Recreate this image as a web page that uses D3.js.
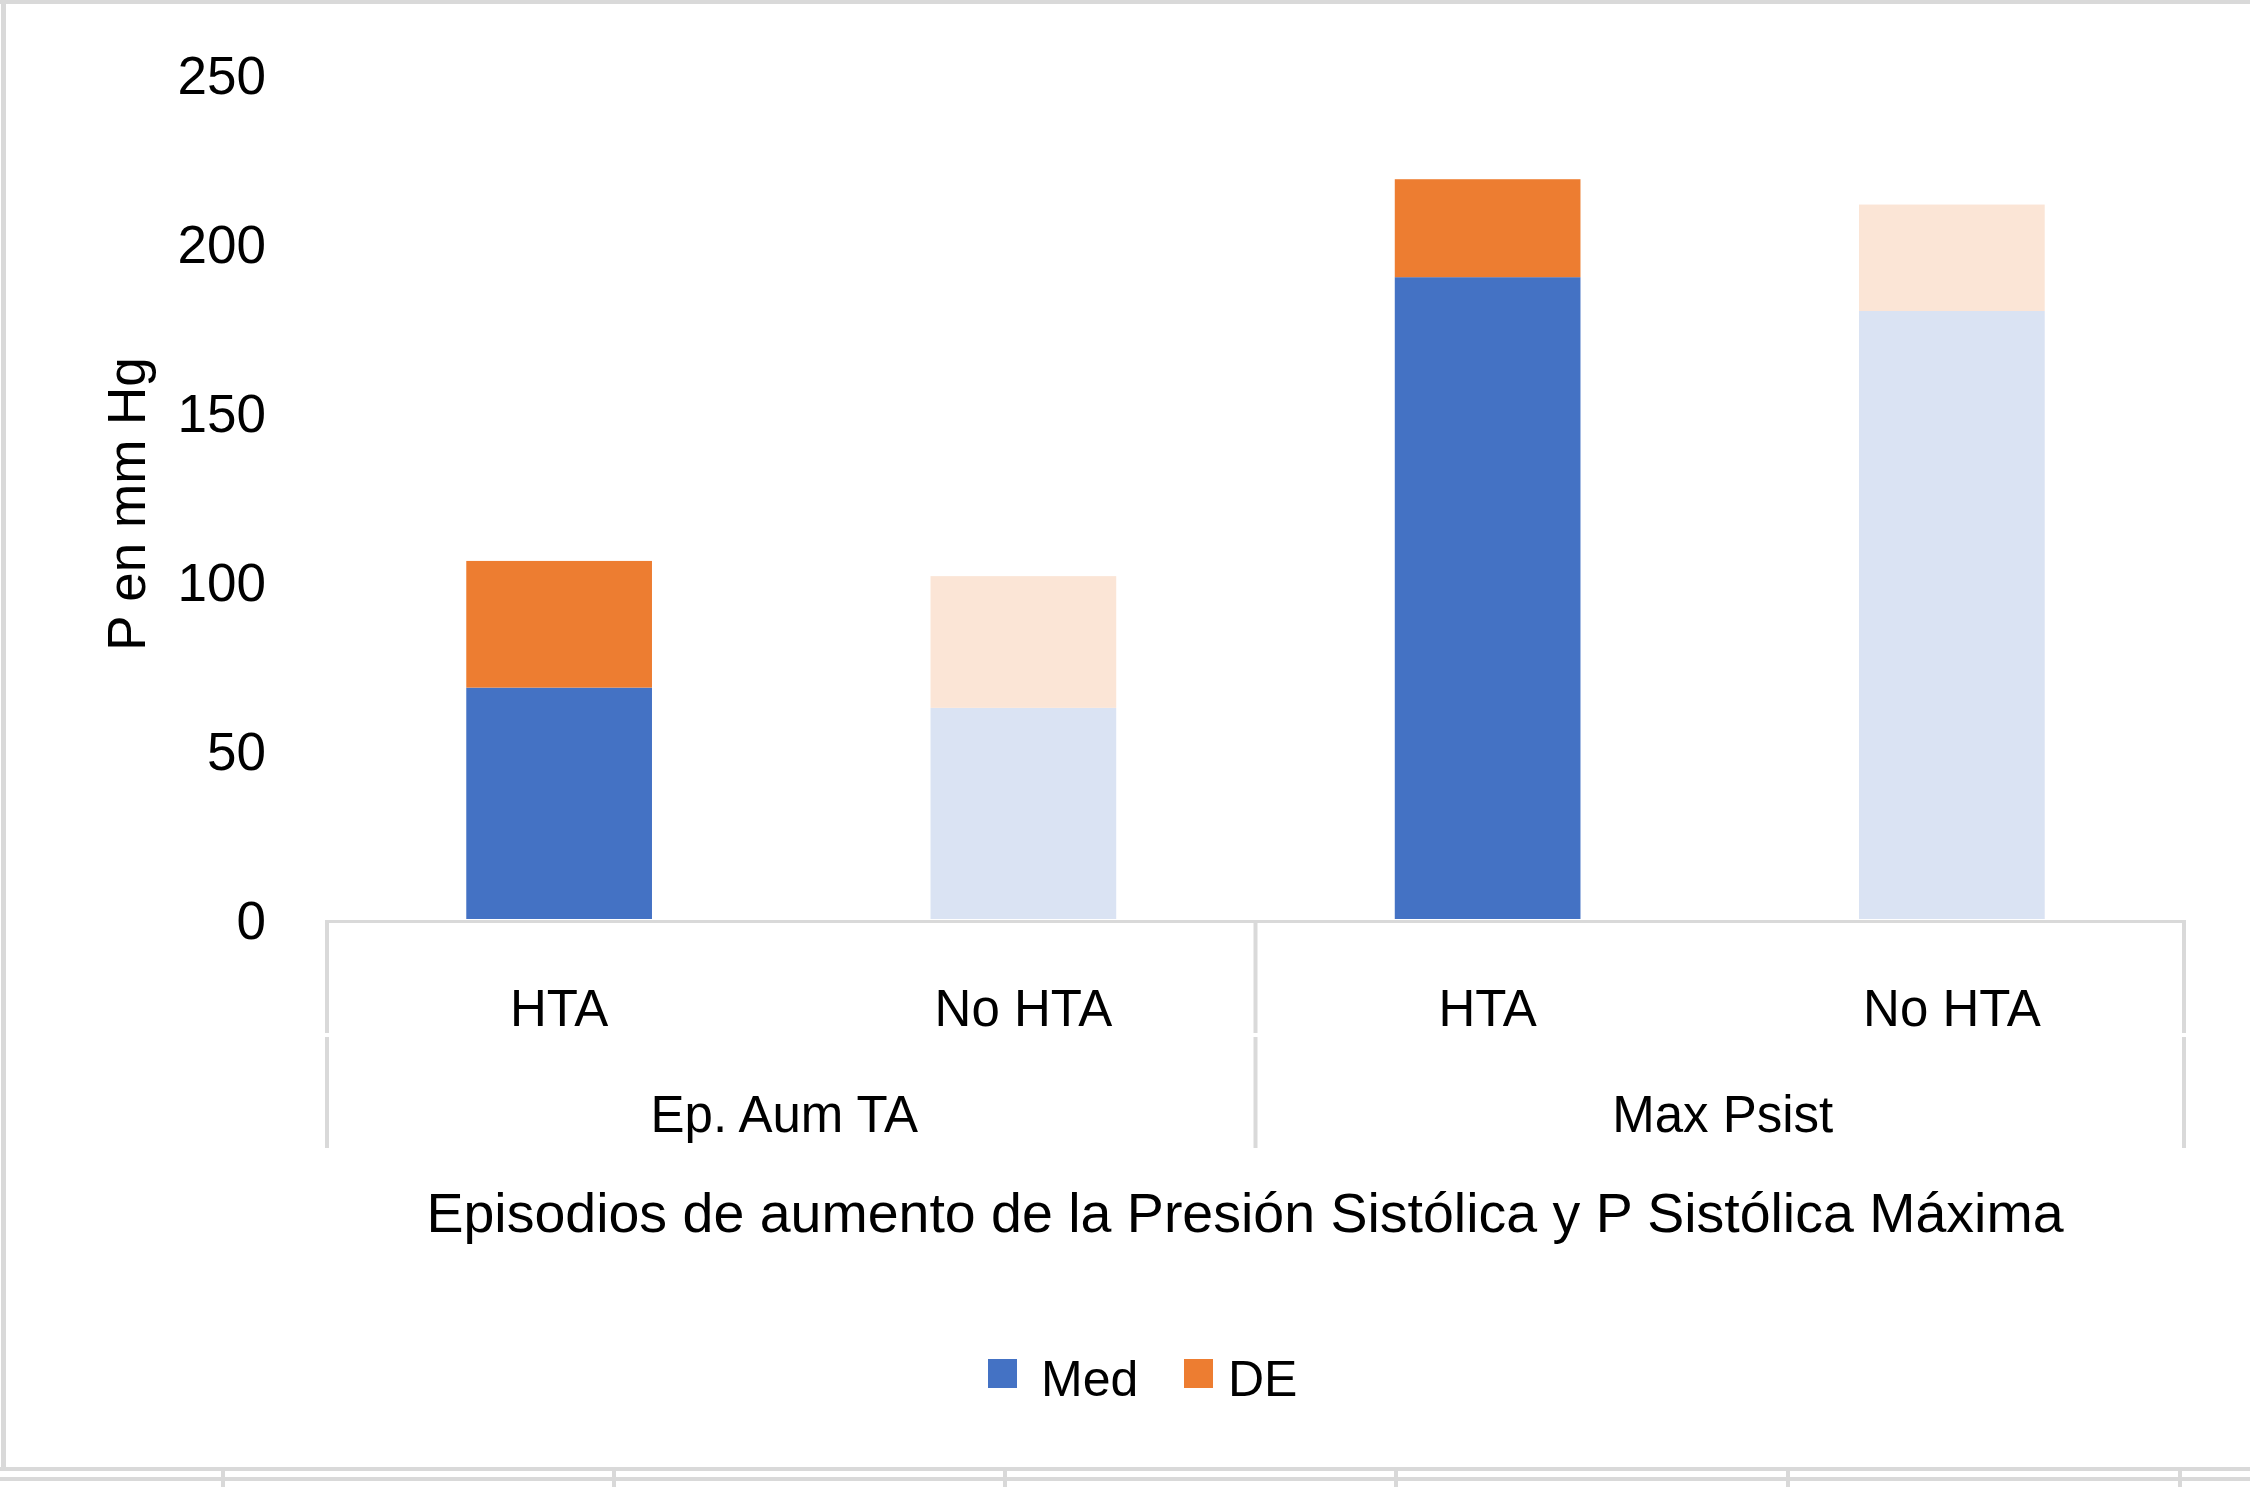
<!DOCTYPE html>
<html>
<head>
<meta charset="utf-8">
<script src="https://cdn.jsdelivr.net/npm/d3@7"></script>
<style>
  body { margin: 0; background: #fff; }
  svg { display: block; font-family: "Liberation Sans", Arial, sans-serif; }
</style>
</head>
<body>
<svg width="2250" height="1487"></svg>
<script>
// data
const groups = ['Ep. Aum TA', 'Max Psist'];
const subLabels = ['HTA', 'No HTA', 'HTA', 'No HTA'];
const barGroup = [0, 0, 1, 1];
const medValues = [68.5, 62.5, 190, 180];
const deValues = [37.5, 39, 29, 31.5];
const yTicks = [0, 50, 100, 150, 200, 250];
const seriesNames = ['Med', 'DE'];

const strong = { Med: '#4472C4', DE: '#ED7D31' };
const pale = { Med: '#DAE3F3', DE: '#FBE5D6' };
const grid = '#d9d9d9';

const svg = d3.select('svg');

// frame and sheet lines
svg.append('line').attr('x1', 3.5).attr('x2', 3.5).attr('y1', 0).attr('y2', 1471)
  .attr('stroke', grid).attr('stroke-width', 5);
svg.append('line').attr('x1', 0).attr('x2', 2250).attr('y1', 2).attr('y2', 2)
  .attr('stroke', grid).attr('stroke-width', 4);
svg.append('line').attr('x1', 0).attr('x2', 2250).attr('y1', 1469).attr('y2', 1469)
  .attr('stroke', grid).attr('stroke-width', 4);
svg.append('line').attr('x1', 0).attr('x2', 2250).attr('y1', 1479).attr('y2', 1479)
  .attr('stroke', grid).attr('stroke-width', 4);
[223, 614, 1005, 1396, 1788, 2180].forEach(function (x) {
  svg.append('line').attr('x1', x).attr('x2', x).attr('y1', 1471).attr('y2', 1487)
    .attr('stroke', grid).attr('stroke-width', 4);
});

// scales
const x = d3.scaleBand()
  .domain(d3.range(subLabels.length))
  .range([327, 2184])
  .paddingInner(0.6)
  .paddingOuter(0.3);

const y = d3.scaleLinear()
  .domain([0, 250])
  .range([919, 74.5]);

// stacked bars
const rows = d3.range(subLabels.length).map(function (i) {
  return { i: i, Med: medValues[i], DE: deValues[i] };
});
const stack = d3.stack().keys(seriesNames)(rows);

svg.append('g')
  .selectAll('g')
  .data(stack)
  .join('g')
  .each(function (layer) {
    d3.select(this).selectAll('rect')
      .data(layer)
      .join('rect')
      .attr('x', d => x(d.data.i))
      .attr('width', x.bandwidth())
      .attr('y', d => y(d[1]))
      .attr('height', d => y(d[0]) - y(d[1]))
      .attr('fill', d => subLabels[d.data.i] === 'HTA' ? strong[layer.key] : pale[layer.key]);
  });

// y axis
const yAxis = svg.append('g')
  .attr('transform', 'translate(266,0)')
  .call(d3.axisLeft(y).tickValues(yTicks).tickSize(0).tickPadding(0));
yAxis.select('.domain').remove();
yAxis.selectAll('text')
  .attr('font-family', '"Liberation Sans", Arial, sans-serif')
  .attr('font-size', 53)
  .attr('fill', '#000')
  .attr('dy', '0.36em');

svg.append('text')
  .attr('transform', 'translate(145,504) rotate(-90)')
  .attr('text-anchor', 'middle')
  .attr('font-size', 53)
  .text('P en mm Hg');

// category axis
svg.append('line').attr('x1', 327).attr('x2', 2184).attr('y1', 921.5).attr('y2', 921.5)
  .attr('stroke', grid).attr('stroke-width', 3);
[327, 1255.5, 2184].forEach(function (sx) {
  svg.append('line').attr('x1', sx).attr('x2', sx).attr('y1', 920).attr('y2', 1033)
    .attr('stroke', grid).attr('stroke-width', 4);
  svg.append('line').attr('x1', sx).attr('x2', sx).attr('y1', 1037).attr('y2', 1148)
    .attr('stroke', grid).attr('stroke-width', 4);
});

const xAxis = svg.append('g')
  .attr('transform', 'translate(0,989)')
  .call(d3.axisBottom(x).tickFormat(i => subLabels[i]).tickSize(0).tickPadding(0));
xAxis.select('.domain').remove();
xAxis.selectAll('text')
  .attr('font-family', '"Liberation Sans", Arial, sans-serif')
  .attr('font-size', 51)
  .attr('fill', '#000')
  .attr('dy', '0.72em');

const groupShift = [-7, 3];
groups.forEach(function (g, gi) {
  const idx = d3.range(subLabels.length).filter(i => barGroup[i] === gi);
  const x0 = x(idx[0]) - x.step() * x.paddingInner() / 2;
  const x1 = x(idx[idx.length - 1]) + x.bandwidth() + x.step() * x.paddingInner() / 2;
  svg.append('text')
    .attr('x', (x0 + x1) / 2 + groupShift[gi])
    .attr('y', 1132)
    .attr('text-anchor', 'middle')
    .attr('font-size', 51)
    .text(g);
});

svg.append('text')
  .attr('x', 1245)
  .attr('y', 1232)
  .attr('text-anchor', 'middle')
  .attr('font-size', 55.5)
  .text('Episodios de aumento de la Presión Sistólica y P Sistólica Máxima');

// legend
const legendX = [988, 1184];
const legendTextX = [1041, 1228];
seriesNames.forEach(function (s, k) {
  svg.append('rect')
    .attr('x', legendX[k]).attr('y', 1359)
    .attr('width', 29).attr('height', 29)
    .attr('fill', strong[s]);
  svg.append('text')
    .attr('x', legendTextX[k])
    .attr('y', 1396)
    .attr('font-size', 50)
    .text(s);
});
</script>
</body>
</html>
